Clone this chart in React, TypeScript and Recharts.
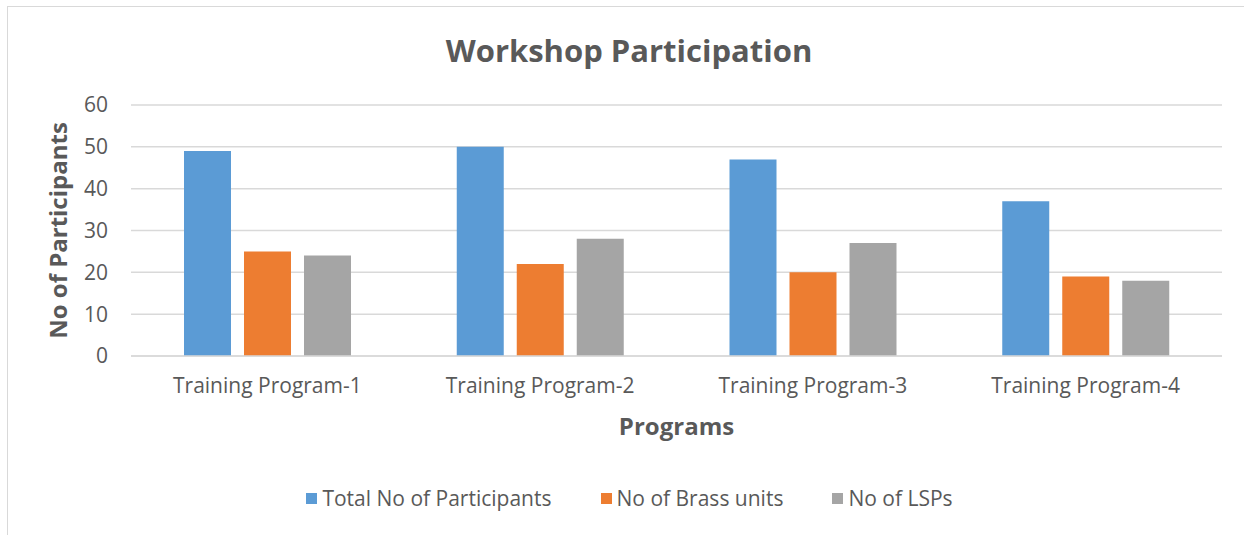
import { BarChart, Bar, XAxis, YAxis, CartesianGrid, Legend } from 'recharts';

const programs = ['Training Program-1', 'Training Program-2', 'Training Program-3', 'Training Program-4'];
const totalParticipants = [49, 50, 47, 37];
const brassUnits = [25, 22, 20, 19];
const lsps = [24, 28, 27, 18];
const yTicks = [0, 10, 20, 30, 40, 50, 60];
const seriesNames = ['Total No of Participants', 'No of Brass units', 'No of LSPs'];

const data = programs.map((name, i) => ({
  name,
  total: totalParticipants[i],
  brass: brassUnits[i],
  lsp: lsps[i],
}));

const FONT = '"Open Sans", sans-serif';
const TEXT = '#595959';
const GRID = '#d9d9d9';

const renderLegend = (props: any) => {
  const items = [...props.payload].sort(
    (a: any, b: any) => seriesNames.indexOf(a.value) - seriesNames.indexOf(b.value)
  );
  return (
    <div
      style={{
        display: 'flex',
        justifyContent: 'center',
        alignItems: 'center',
        height: 26,
        paddingLeft: 15,
        fontFamily: FONT,
        fontSize: 21,
        color: TEXT,
      }}
    >
      {items.map((entry: any, index: number) => (
        <div
          key={`item-${index}`}
          style={{ display: 'flex', alignItems: 'center', marginLeft: index === 0 ? 0 : 49 }}
        >
          <span style={{ display: 'inline-block', width: 11, height: 11, background: entry.color, marginRight: 5 }} />
          <span>{entry.value}</span>
        </div>
      ))}
    </div>
  );
};

const App = () => {
  return (
    <div style={{ position: 'absolute', left: 0, top: 0, width: 1244, height: 535, overflow: 'hidden', background: '#fff' }}>
      <div
        style={{
          position: 'absolute',
          left: 7,
          top: 6,
          width: 1260,
          height: 560,
          border: `1.5px solid ${GRID}`,
          boxSizing: 'border-box',
        }}
      />
      <div
        style={{
          position: 'absolute',
          left: 0,
          top: 29,
          width: 1258,
          textAlign: 'center',
          fontFamily: FONT,
          fontWeight: 'bold',
          fontSize: 31,
          color: TEXT,
          lineHeight: '42px',
        }}
      >
        Workshop Participation
      </div>
      <div style={{ position: 'absolute', left: 0, top: 0 }}>
        <BarChart
          width={1244}
          height={535}
          data={data}
          margin={{ top: 105, right: 22, left: 40, bottom: 24 }}
          barGap={13}
        >
          <CartesianGrid vertical={false} stroke={GRID} strokeWidth={1.5} />
          <XAxis
            dataKey="name"
            height={129}
            axisLine={{ stroke: GRID, strokeWidth: 1.5 }}
            tickLine={false}
            tickSize={0}
            tickMargin={22}
            tick={{ fill: TEXT, fontSize: 21, fontFamily: FONT }}
            label={{
              value: 'Programs',
              position: 'insideTop',
              offset: 62,
              style: { fill: TEXT, fontSize: 24, fontWeight: 'bold', fontFamily: FONT },
            }}
          />
          <YAxis
            width={91}
            domain={[0, 60]}
            ticks={yTicks}
            axisLine={false}
            tickLine={false}
            tickSize={0}
            tickMargin={23}
            tick={{ fill: TEXT, fontSize: 21, fontFamily: FONT }}
            label={{
              value: 'No of Participants',
              angle: -90,
              position: 'insideLeft',
              offset: 18,
              style: { textAnchor: 'middle', fill: TEXT, fontSize: 24, fontWeight: 'bold', fontFamily: FONT },
            }}
          />
          <Legend
            verticalAlign="bottom"
            content={renderLegend}
            wrapperStyle={{ left: 0, width: 1244 }}
          />
          <Bar dataKey="total" name={seriesNames[0]} fill="#5B9BD5" barSize={47} isAnimationActive={false} />
          <Bar dataKey="brass" name={seriesNames[1]} fill="#ED7D31" barSize={47} isAnimationActive={false} />
          <Bar dataKey="lsp" name={seriesNames[2]} fill="#A5A5A5" barSize={47} isAnimationActive={false} />
        </BarChart>
      </div>
    </div>
  );
};

export default App;
